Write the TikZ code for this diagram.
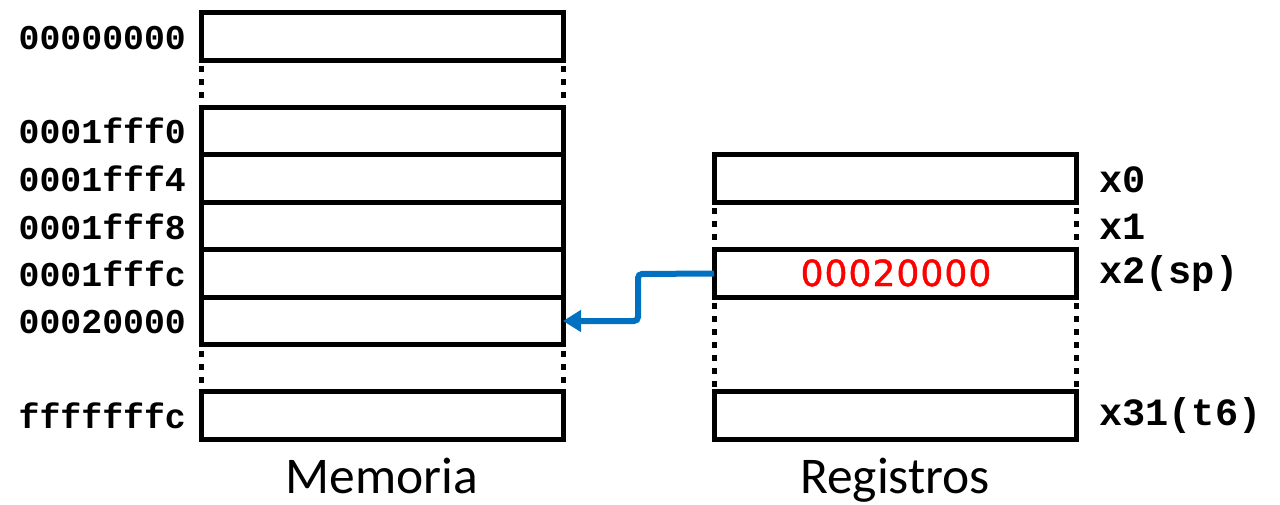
\documentclass[tikz,border=0pt]{standalone}
\usepackage{fontspec}
\setmainfont{Carlito}
\newfontfamily\monob{Liberation Mono}[BoldFont={* Bold}]
\newfontfamily\valfont{DejaVu Sans}[LetterSpace=3, FakeBold=1.2]
\usetikzlibrary{arrows.meta}
\definecolor{arrowblue}{RGB}{0,112,192}
\definecolor{valred}{RGB}{255,0,0}
\tikzset{
  cell/.style={draw=black, line width=5pt, minimum width=362pt, minimum height=47.5pt, inner sep=0pt, outer sep=0pt},
  gapline/.style={line width=5pt, dash pattern=on 6pt off 7pt, dash phase=-6pt},
  addr/.style={anchor=east, inner sep=0pt, font=\monob\bfseries\fontsize{34.8}{36}\selectfont},
  reglab/.style={anchor=west, inner sep=0pt, font=\monob\bfseries\fontsize{38.6}{40}\selectfont},
  title/.style={anchor=base, inner sep=0pt, font=\fontsize{51.5}{54}\selectfont},
  ptr/.style={draw=arrowblue, line width=6pt, rounded corners=4pt, -{Triangle[length=18pt,width=21pt]}}
}
\begin{document}
\begin{tikzpicture}[x=1pt,y=-1pt]
\useasboundingbox (0,0) rectangle (1280,505);
% memory cells
\node[cell] (m0) at (382,36.5) {};
\node[cell] (m1) at (382,131) {};
\node[cell] (m2) at (382,178.5) {};
\node[cell] (m3) at (382,226) {};
\node[cell] (m4) at (382,273.5) {};
\node[cell] (m5) at (382,321) {};
\node[cell] (m6) at (382,415.5) {};
% memory gaps
\draw[gapline] (m0.south west) -- (m1.north west);
\draw[gapline] (m0.south east) -- (m1.north east);
\draw[gapline] (m5.south west) -- (m6.north west);
\draw[gapline] (m5.south east) -- (m6.north east);
% addresses
\node[addr] (a0) at (186,38) {00000000};
\node[addr] (a1) at (186,131) {0001fff0};
\node[addr] (a2) at (186,179) {0001fff4};
\node[addr] (a3) at (186,227) {0001fff8};
\node[addr] (a4) at (186,274) {0001fffc};
\node[addr] (a5) at (186,322) {00020000};
\node[addr] (a6) at (186,416) {fffffffc};
% registers
\node[cell] (r0) at (895,178.5) {};
\node[cell] (r2) at (895,273.5) {};
\node[inner sep=0pt, anchor=base, font=\valfont\fontsize{36}{38}\selectfont, text=valred] (v2) at (896,286) {00020000};
\node[cell] (r31) at (895,415.5) {};
\draw[gapline] (r0.south west) -- (r2.north west);
\draw[gapline] (r0.south east) -- (r2.north east);
\draw[gapline] (r2.south west) -- (r31.north west);
\draw[gapline] (r2.south east) -- (r31.north east);
\node[reglab] (l0) at (1099,180) {x0};
\node[reglab] (l1) at (1099,227) {x1};
\node[reglab] (l2) at (1099,274) {x2(sp)};
\node[reglab] (l31) at (1099,416) {x31(t6)};
% titles
\node[title] (tm) at (382,493) {Memoria};
\node[title] (tr) at (895,493) {Registros};
% pointer
\coordinate (bend) at (638,274);
\draw[ptr] (r2.west) -- (bend) |- (m5.east);
\end{tikzpicture}
\end{document}
